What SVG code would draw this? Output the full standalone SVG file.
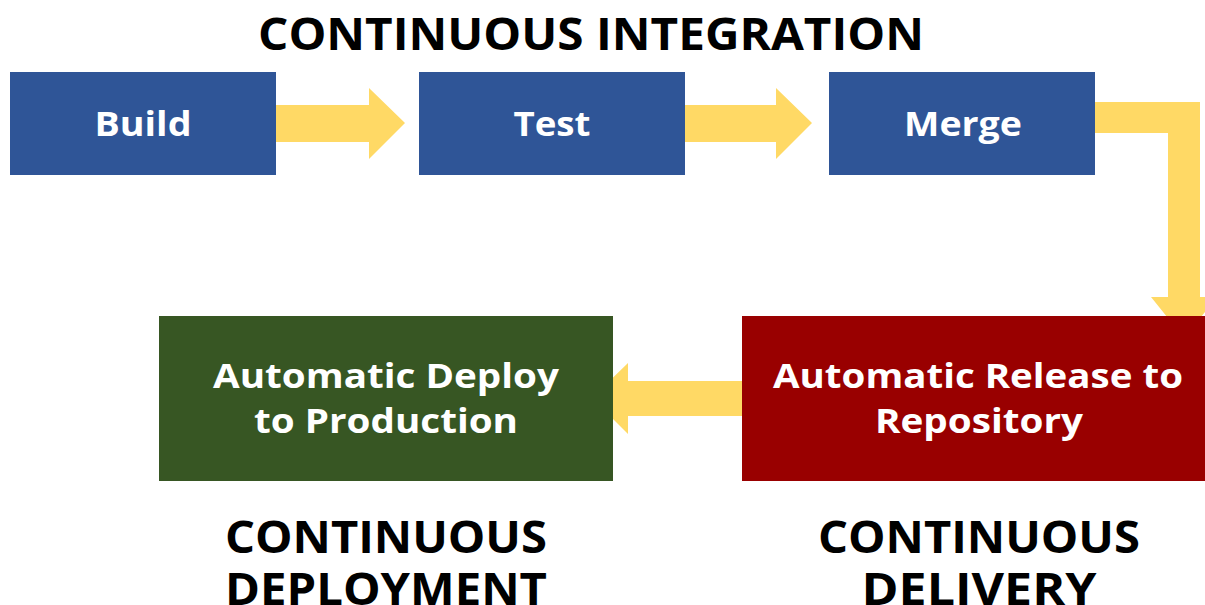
<svg xmlns="http://www.w3.org/2000/svg" width="1205" height="605" viewBox="0 0 1205 605">
<style>
.t{font-family:"Open Sans","Liberation Sans",sans-serif;font-weight:700;text-anchor:middle}
.h{font-size:44px;fill:#000}
.n{font-size:34px;fill:#fff}
.arr{fill:#ffd965}
</style>
<rect width="1205" height="605" fill="#fff"/>
<text class="t h" x="591" y="50" textLength="666" lengthAdjust="spacingAndGlyphs">CONTINUOUS INTEGRATION</text>
<g id="connectors">
<polygon class="arr" points="276,105 369,105 369,88 405,123 369,159 369,142 276,142"/>
<polygon class="arr" points="685,105 776,105 776,88 812,123 776,159 776,142 685,142"/>
<polygon class="arr" points="1095,102 1200,102 1200,297 1217,297 1184,338 1151,297 1168,297 1168,133 1095,133"/>
<polygon class="arr" points="742,381 628,381 628,363 592,398 628,434 628,416 742,416"/>
</g>
<g id="build"><rect x="10" y="72" width="266" height="103" fill="#2f5597"/><text class="t n" x="143" y="136" textLength="97" lengthAdjust="spacingAndGlyphs">Build</text></g>
<g id="test"><rect x="419" y="72" width="266" height="103" fill="#2f5597"/><text class="t n" x="552" y="136" textLength="77" lengthAdjust="spacingAndGlyphs">Test</text></g>
<g id="merge"><rect x="829" y="72" width="266" height="103" fill="#2f5597"/><text class="t n" x="963" y="136" textLength="118" lengthAdjust="spacingAndGlyphs">Merge</text></g>
<g id="release"><rect x="742" y="316" width="463" height="165" fill="#990000"/><text class="t n" x="978" y="388" textLength="410" lengthAdjust="spacingAndGlyphs">Automatic Release to</text><text class="t n" x="979" y="433" textLength="208" lengthAdjust="spacingAndGlyphs">Repository</text></g>
<g id="deploy"><rect x="159" y="316" width="454" height="165" fill="#375623"/><text class="t n" x="386" y="388" textLength="346" lengthAdjust="spacingAndGlyphs">Automatic Deploy</text><text class="t n" x="386" y="433" textLength="264" lengthAdjust="spacingAndGlyphs">to Production</text></g>
<text class="t h" x="386" y="553" textLength="322" lengthAdjust="spacingAndGlyphs">CONTINUOUS</text>
<text class="t h" x="386" y="605" textLength="322" lengthAdjust="spacingAndGlyphs">DEPLOYMENT</text>
<text class="t h" x="979" y="553" textLength="322" lengthAdjust="spacingAndGlyphs">CONTINUOUS</text>
<text class="t h" x="979" y="605" textLength="235" lengthAdjust="spacingAndGlyphs">DELIVERY</text>
</svg>
